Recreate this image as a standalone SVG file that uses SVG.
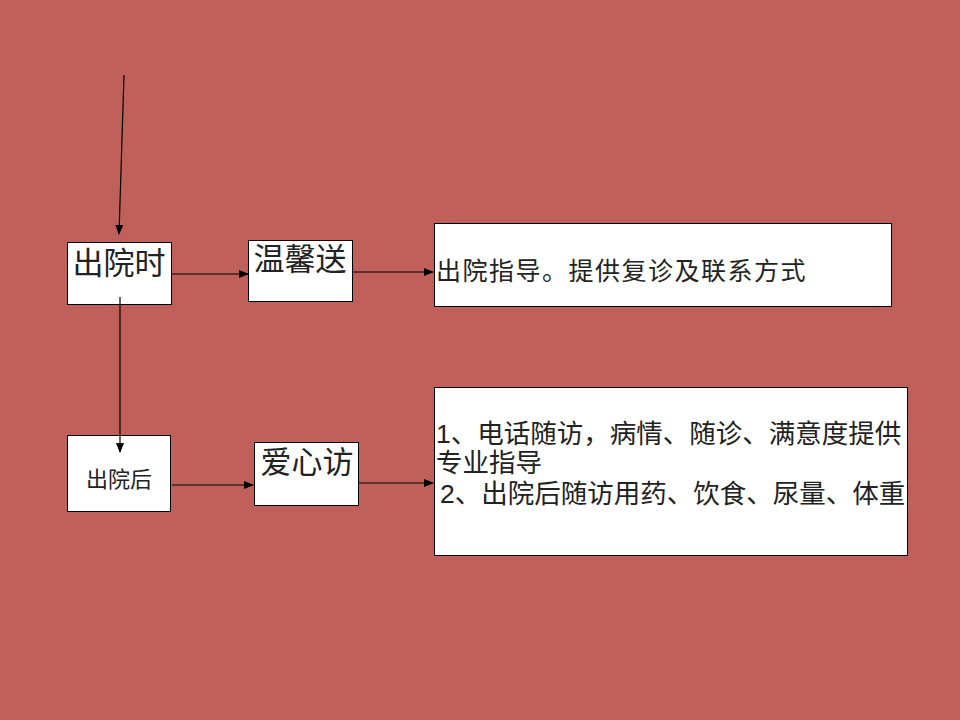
<svg xmlns="http://www.w3.org/2000/svg" width="960" height="720" viewBox="0 0 960 720">
<defs>
<marker id="ah" markerWidth="10" markerHeight="8" refX="9" refY="4" orient="auto" markerUnits="userSpaceOnUse">
<path d="M0,0 L10,4 L0,8 Z" fill="#000"/>
</marker>
<style>
.box{fill:#fff;stroke:#000;stroke-width:1}
.t{font-family:"Liberation Sans","Noto Sans CJK SC",sans-serif;fill:#222}
.c{stroke:#000;stroke-width:1.2;fill:none;marker-end:url(#ah)}
</style>
</defs>
<rect width="960" height="720" fill="#C0605A"/>
<g id="n1">
<rect class="box" x="67.500" y="242.500" width="104" height="62"/>
<text class="t" x="119" y="274" font-size="31" text-anchor="middle">出院时</text>
</g>
<g id="n2">
<rect class="box" x="248.500" y="240.500" width="104" height="61"/>
<text class="t" x="300" y="270" font-size="31" text-anchor="middle">温馨送</text>
</g>
<g id="n3">
<rect class="box" x="434.500" y="223.500" width="457" height="83"/>
<text class="t" x="436" y="280" font-size="25" letter-spacing="1.500">出院指导。提供复诊及联系方式</text>
</g>
<g id="n4">
<rect class="box" x="67.500" y="435.500" width="103" height="76"/>
<text class="t" x="119" y="487" font-size="22" text-anchor="middle">出院后</text>
</g>
<g id="n5">
<rect class="box" x="254.500" y="442.500" width="104" height="63"/>
<text class="t" x="307" y="473" font-size="31" text-anchor="middle">爱心访</text>
</g>
<g id="n6">
<rect class="box" x="434.500" y="387.500" width="473" height="168"/>
<text class="t" font-size="26.500"><tspan x="436" y="443">1、电话随访，病情、随诊、满意度提供</tspan><tspan x="436" y="472">专业指导</tspan><tspan x="440" y="503">2、出院后随访用药、饮食、尿量、体重</tspan></text>
</g>
<g id="connectors">
<line class="c" x1="124" y1="75" x2="119" y2="234"/>
<line class="c" x1="120" y1="297" x2="120" y2="452"/>
<line class="c" x1="172" y1="274" x2="248" y2="274"/>
<line class="c" x1="352" y1="272" x2="433" y2="272"/>
<line class="c" x1="172" y1="485" x2="253" y2="485"/>
<line class="c" x1="358" y1="483" x2="433" y2="483"/>
</g>
</svg>
